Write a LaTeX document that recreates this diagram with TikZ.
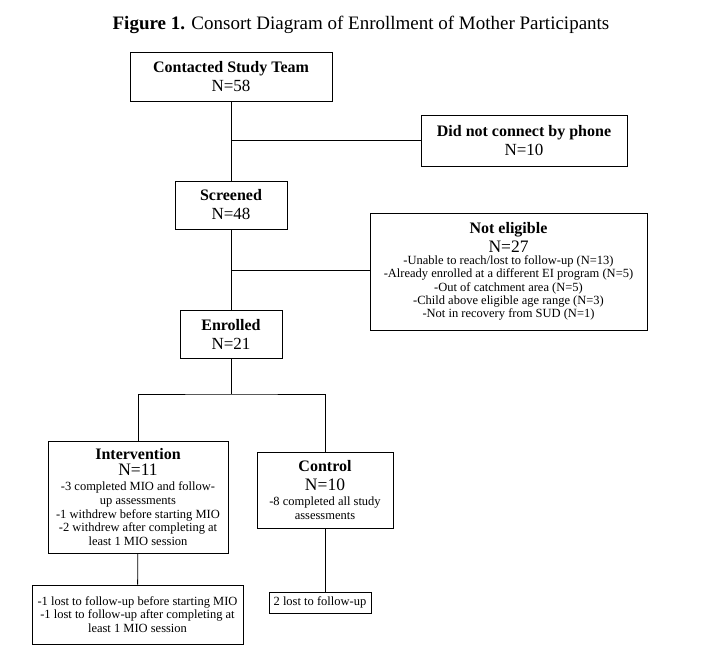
\documentclass[tikz,border=0pt]{standalone}
\usepackage{fontspec}
\setmainfont{Liberation Serif}
\usepackage{tikz}
\usetikzlibrary{positioning}

\newcommand{\hd}[1]{{\fontsize{16}{19}\selectfont\bfseries #1}}
\newcommand{\nn}[1]{{\fontsize{17.5}{19}\selectfont #1}}

\begin{document}
\begin{tikzpicture}[x=1pt,y=-1pt, line width=0.8pt,
    box/.style={draw, align=center, inner sep=0pt, font=\fontsize{17}{19}\selectfont},
    note/.style={draw, align=center, inner sep=0pt, font=\fontsize{12.5}{13.2}\selectfont}]
    \useasboundingbox (0,0) rectangle (715,652);

    \node (title) at (361,25) {\fontsize{19}{22}\selectfont\textbf{Figure 1.} Consort Diagram of Enrollment of Mother Participants};

    % Main column
    \node[box, minimum width=202, minimum height=49] (contact) at (231,76.5) {\hd{Contacted Study Team}\\N=58};
    \node[box, minimum width=112, minimum height=48] (screen) at (231,205) {\hd{Screened}\\N=48};
    \node[box, minimum width=102, minimum height=48] (enrol) at (231,334) {\hd{Enrolled}\\N=21};

    % Exclusions on the right
    \node[box, minimum width=206, minimum height=51] (noconn) at (524,140.5) {\hd{Did not connect by phone}\\N=10};
    \node[note, minimum width=277, minimum height=117] (notelig) at (508.5,271.5) {\hd{Not eligible}\\[2pt]
      \nn{N=27}\\[-0.5pt]
      -Unable to reach/lost to follow-up (N=13)\\
      -Already enrolled at a different EI program (N=5)\\
      -Out of catchment area (N=5)\\
      -Child above eligible age range (N=3)\\
      -Not in recovery from SUD (N=1)};

    % Study arms
    \node[note, minimum width=180, minimum height=112] (interv) at (138,497) {\hd{Intervention}\\[3pt]
      \nn{N=11}\\[2pt]
      -3 completed MIO and follow-\\[0.5pt]
      up assessments\\[0.5pt]
      -1 withdrew before starting MIO\\[0.5pt]
      -2 withdrew after completing at\\[0.5pt]
      least 1 MIO session};
    \node[note, minimum width=136, minimum height=76] (control) at (325,490) {\hd{Control}\\[6pt]
      \nn{N=10}\\[2pt]
      -8 completed all study\\[0.5pt]
      assessments};

    % Losses
    \node[note, minimum width=211, minimum height=59] (lostI) at (137.5,614.5) {-1 lost to follow-up before starting MIO\\[0.5pt]
      -1 lost to follow-up after completing at\\[0.5pt]
      least 1 MIO session};
    \node[note, minimum width=102, minimum height=21] (lostC) at (320,602.5) {2 lost to follow-up};

    % Connectors
    \coordinate (j1) at (231,140.5);
    \coordinate (j2) at (231,270);
    \coordinate (br) at (231,394);
    \draw (contact) -- (screen);
    \draw (screen) -- (enrol);
    \draw (j1) -- (noconn);
    \draw (j2) -- (notelig.west |- j2);
    \draw (enrol) -- (br);
    \draw (interv.north) |- (br) -| (control.north);
    \draw (interv) -- (lostI);
    \draw (control.south) -- (control.south |- lostC.north);
\end{tikzpicture}
\end{document}
